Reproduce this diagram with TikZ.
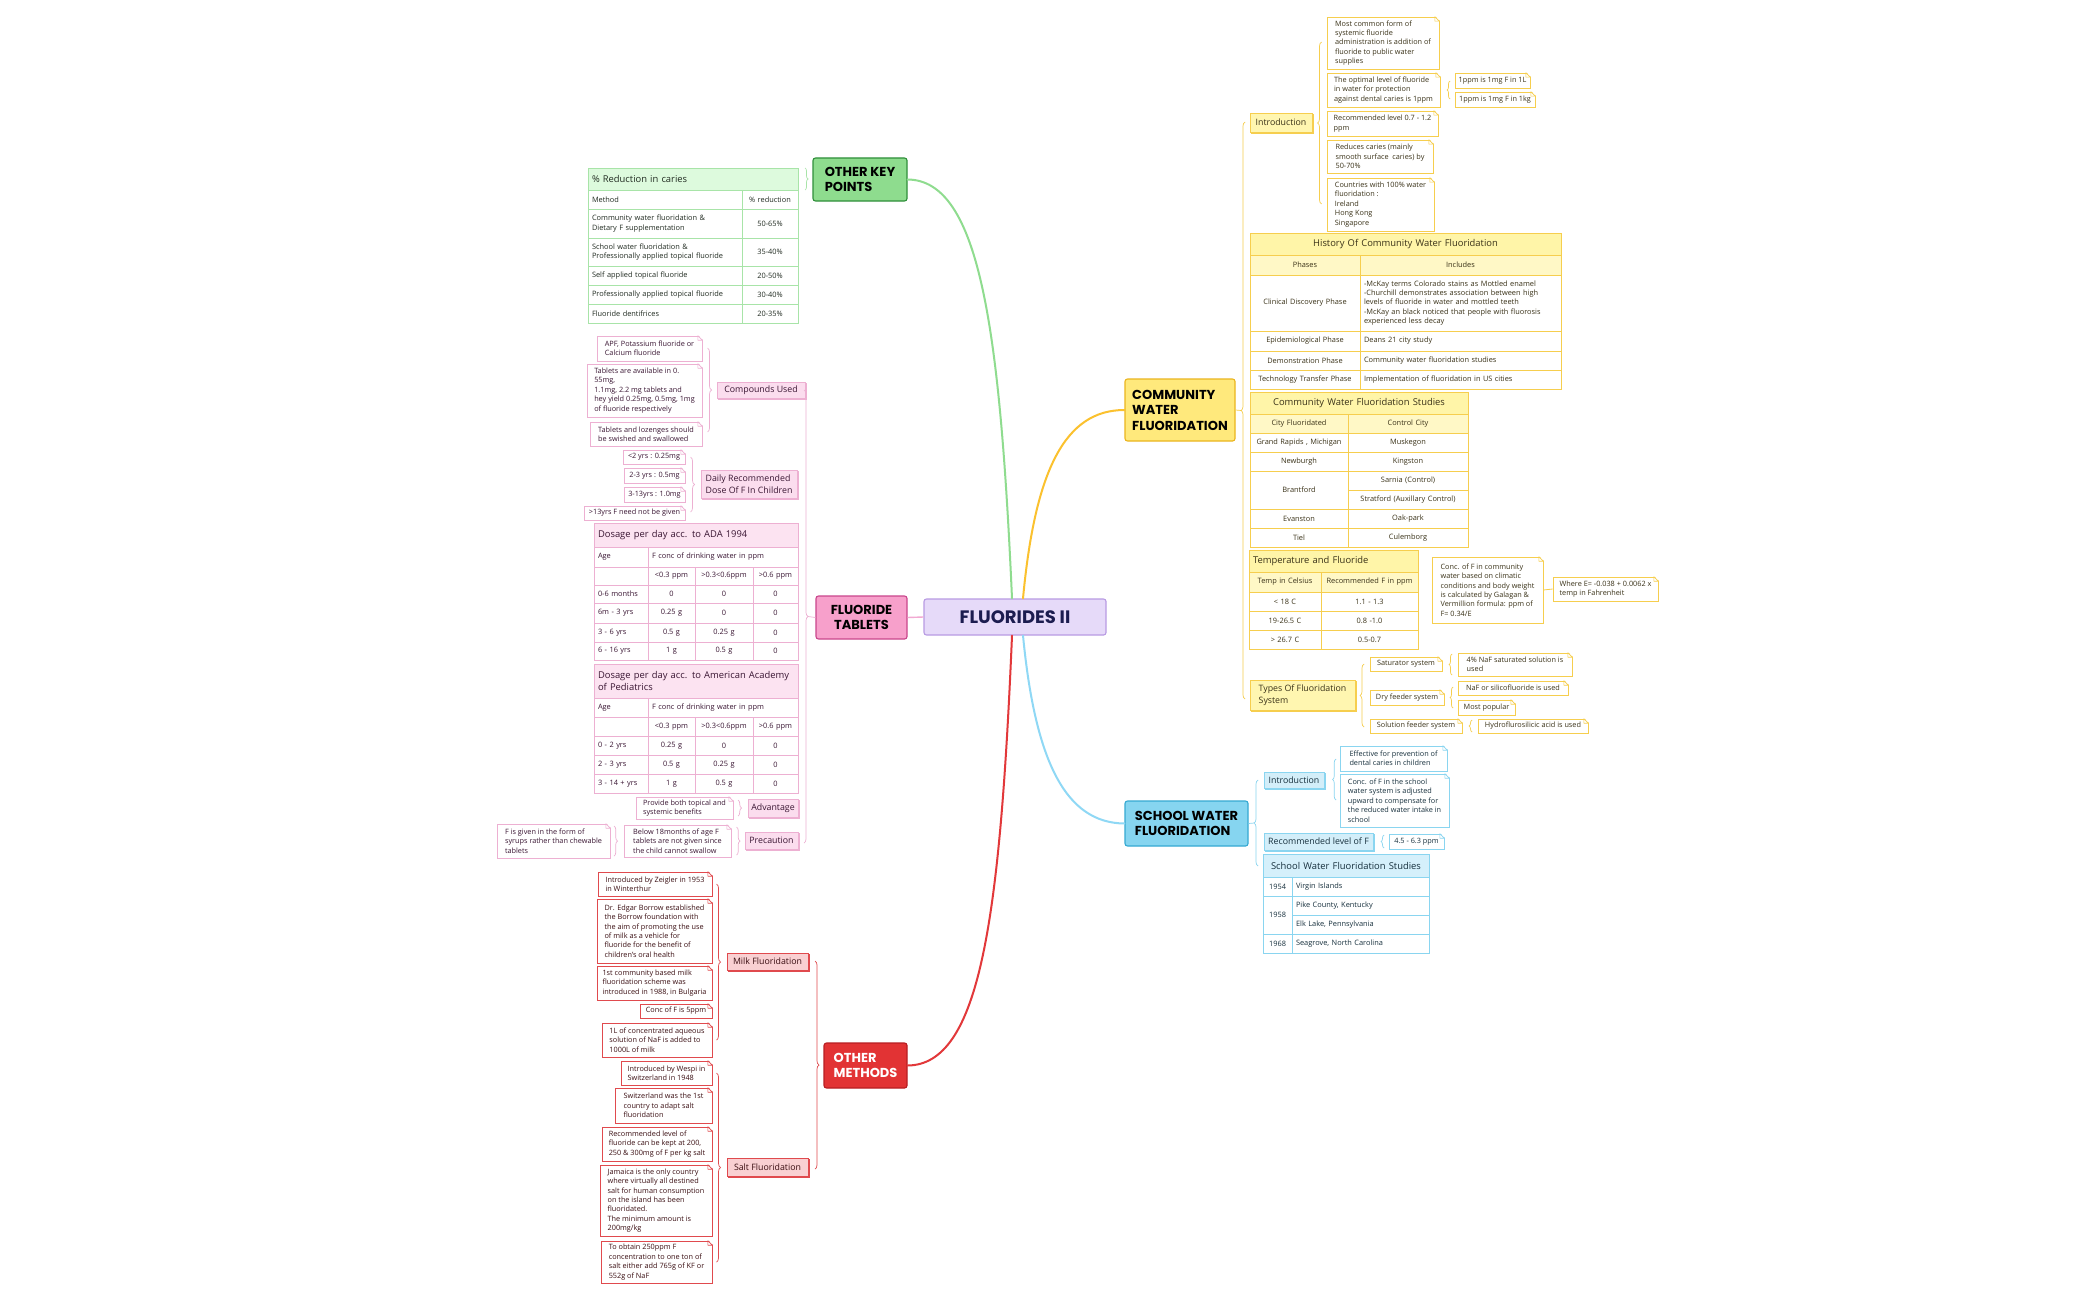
\documentclass[tikz,border=0pt]{standalone}
\usepackage{fontspec}
\setmainfont{Open Sans}
\newfontfamily\topicfont{Poppins}
\usetikzlibrary{decorations.pathreplacing,shadows}
\definecolor{gLine}{HTML}{8FDC8F}
\definecolor{gFill}{HTML}{8EDC8E}
\definecolor{gDark}{HTML}{2F8F3A}
\definecolor{gBord}{HTML}{A8E4A8}
\definecolor{gHead}{HTML}{DDFADD}
\definecolor{gText}{HTML}{222C22}
\definecolor{pLine}{HTML}{F2A9D2}
\definecolor{pFill}{HTML}{F7A0CB}
\definecolor{pDark}{HTML}{C9468C}
\definecolor{pBord}{HTML}{EDB0D2}
\definecolor{pSub}{HTML}{FBDDEE}
\definecolor{pHead}{HTML}{FCE3F1}
\definecolor{pText}{HTML}{3A1633}
\definecolor{rLine}{HTML}{E2383A}
\definecolor{rFill}{HTML}{E23334}
\definecolor{rDark}{HTML}{B81E22}
\definecolor{rBord}{HTML}{E04A4E}
\definecolor{rSub}{HTML}{F9D0D2}
\definecolor{rText}{HTML}{3A0E12}
\definecolor{yLine}{HTML}{FBC12E}
\definecolor{yFill}{HTML}{FFE97C}
\definecolor{yDark}{HTML}{EBB51E}
\definecolor{yBord}{HTML}{F6CE4E}
\definecolor{ySub}{HTML}{FFF6B0}
\definecolor{yHead}{HTML}{FFF5A8}
\definecolor{yHeadB}{HTML}{FFF8C6}
\definecolor{yText}{HTML}{3A3218}
\definecolor{bLine}{HTML}{8FD8F5}
\definecolor{bFill}{HTML}{86D5F0}
\definecolor{bDark}{HTML}{35A9D2}
\definecolor{bBord}{HTML}{8AD5F0}
\definecolor{bSub}{HTML}{D3EEF9}
\definecolor{bHead}{HTML}{D5F0FB}
\definecolor{bText}{HTML}{17303D}
\definecolor{cFill}{HTML}{E6DAF9}
\definecolor{cBord}{HTML}{B89BE3}
\definecolor{cText}{HTML}{1C1C50}
\tikzset{
  mmbase/.style={draw, inner xsep=3pt, inner ysep=1pt, line width=0.6pt, align=left},
  topic/.style={mmbase, rounded corners=2.5pt, line width=1.1pt, font={\topicfont\bfseries\fontsize{13}{15.5}\selectfont}},
  leaf/.style={mmbase, inner xsep=2.5pt, fill=white, draw=#1Bord, text=#1Text, font={\fontsize{7.3}{9.4}\selectfont}},
  sub/.style={mmbase, fill=#1Sub, draw=#1Bord, text=#1Text, font={\fontsize{8.8}{12}\selectfont}, copy shadow={shadow xshift=1.4pt, shadow yshift=-1.4pt}},
  tcell/.style={mmbase, inner xsep=4pt, fill=white, draw=#1Bord, text=#1Text, align=center, font={\fontsize{7.4}{9.3}\selectfont}},
  thead/.style={mmbase, inner xsep=4pt, fill=#1Head, draw=#1Bord, text=#1Text, font={\fontsize{9.4}{11.5}\selectfont}},
  cl/.style={align=left},
  brc/.style={decorate, decoration={brace, amplitude=#1}, line width=0.7pt},
  brc/.default=4pt,
  conn/.style={line width=2pt, line cap=round},
}
\newcommand\bx[7][]{%
  \pgfmathsetmacro\bxW{#5-#3}%
  \pgfmathsetmacro\bxH{#6-#4}%
  \pgfmathsetmacro\bxX{(#3+#5)/2}%
  \pgfmathsetmacro\bxY{(#4+#6)/2}%
  \pgfmathsetmacro\bxT{#5-#3-8}%
  \node[#1,minimum width=\bxW pt,minimum height=\bxH pt,text width=\bxT pt] (#2) at (\bxX,\bxY) {#7};}
\newcommand\nb[7][]{%
  \pgfmathsetmacro\bxW{#5-#3}%
  \pgfmathsetmacro\bxH{#6-#4}%
  \pgfmathsetmacro\bxX{(#3+#5)/2}%
  \pgfmathsetmacro\bxY{(#4+#6)/2}%
  \node[#1,minimum width=\bxW pt,minimum height=\bxH pt] (#2) at (\bxX,\bxY) {#7};}
\newcommand\dogear[2]{%
  \fill[white] ([xshift=-4.5pt,yshift=1pt]#1.north east) -- ([xshift=1pt,yshift=1pt]#1.north east) -- ([xshift=1pt,yshift=-4.5pt]#1.north east) -- cycle;
  \draw[#2Bord, line width=0.6pt, line join=round] ([xshift=-4.5pt]#1.north east) -- ([yshift=-4.5pt]#1.north east) -- ([xshift=-4.5pt,yshift=-4.5pt]#1.north east) -- cycle;}
\newcommand\prow[7]{%
  \bx[tcell=p,cl]{#1a}{594}{#2}{648}{#3}{#4}%
  \bx[tcell=p]{#1b}{648}{#2}{695}{#3}{#5}%
  \bx[tcell=p]{#1c}{695}{#2}{753}{#3}{#6}%
  \bx[tcell=p]{#1d}{753}{#2}{798}{#3}{#7}}
\begin{document}
\begin{tikzpicture}[x=1pt,y=-1pt]
\fill[white] (0,0) rectangle (2100,1300);
\useasboundingbox (0,0) rectangle (2100,1300);

% ---------- main topics
\nb[topic, fill=cFill, draw=cBord, text=cText, align=center, font={\topicfont\bfseries\fontsize{18}{20}\selectfont}]{c}{924}{599}{1106}{635}{FLUORIDES II}
\nb[topic, fill=gFill, draw=gDark, text=black]{okp}{813}{158}{907}{201}{OTHER KEY\\POINTS}
\nb[topic, fill=pFill, draw=pDark, text=black, align=center]{ft}{816}{596}{907}{639}{FLUORIDE\\TABLETS}
\nb[topic, fill=rFill, draw=rDark, text=white]{om}{824}{1043}{907}{1088}{OTHER\\METHODS}
\nb[topic, fill=yFill, draw=yDark, text=black]{cwf}{1125}{379}{1235}{441}{COMMUNITY\\WATER\\FLUORIDATION}
\nb[topic, fill=bFill, draw=bDark, text=black]{swf}{1125}{801}{1248}{846}{SCHOOL WATER\\FLUORIDATION}

\draw[conn, gLine] ([xshift=-3pt]c.north) .. controls (1000,330) and (980,180) .. (okp.east);
\draw[conn, yLine] ([xshift=8pt]c.north) .. controls (1035,470) and (1065,410) .. (cwf.west);
\draw[conn, bLine] ([xshift=8pt]c.south) .. controls (1035,760) and (1065,823) .. (swf.west);
\draw[conn, rLine] ([xshift=-3pt]c.south) .. controls (1000,920) and (980,1065) .. (om.east);
\draw[line width=1.4pt, pLine] (ft.east) -- (c.west);

% ---------- other key points table
\bx[thead=g]{g0}{588}{168}{798}{190}{\% Reduction in caries}
\bx[tcell=g,cl]{g1a}{588}{190}{742}{209}{Method}
\bx[tcell=g]{g1b}{742}{190}{798}{209}{\% reduction}
\bx[tcell=g,cl]{g2a}{588}{209}{742}{238}{Community water fluoridation \&\\Dietary F supplementation}
\bx[tcell=g]{g2b}{742}{209}{798}{238}{50-65\%}
\bx[tcell=g,cl]{g3a}{588}{238}{742}{266}{School water fluoridation \&\\Professionally applied topical fluoride}
\bx[tcell=g]{g3b}{742}{238}{798}{266}{35-40\%}
\bx[tcell=g,cl]{g4a}{588}{266}{742}{285}{Self applied topical fluoride}
\bx[tcell=g]{g4b}{742}{266}{798}{285}{20-50\%}
\bx[tcell=g,cl]{g5a}{588}{285}{742}{304}{Professionally applied topical fluoride}
\bx[tcell=g]{g5b}{742}{285}{798}{304}{30-40\%}
\bx[tcell=g,cl]{g6a}{588}{304}{742}{323}{Fluoride dentifrices}
\bx[tcell=g]{g6b}{742}{304}{798}{323}{20-35\%}
\draw[brc=3pt, gBord] (805,168) -- (805,190);

% ---------- fluoride tablets
\nb[leaf=p]{pl1}{597}{336}{702}{361}{APF, Potassium fluoride or\\Calcium fluoride}
\nb[leaf=p]{pl2}{587}{364}{702}{417}{Tablets are available in 0.\\55mg,\\1.1mg, 2.2 mg tablets and\\hey yield 0.25mg, 0.5mg, 1mg\\of fluoride respectively}
\nb[leaf=p]{pl3}{590}{422}{702}{446}{Tablets and lozenges should\\be swished and swallowed}
\nb[sub=p]{pcomp}{717}{382}{805}{398}{Compounds Used}
\nb[leaf=p]{pd1}{623}{450}{685}{464}{<2 yrs : 0.25mg}
\nb[leaf=p]{pd2}{624}{468}{685}{483}{2-3 yrs : 0.5mg}
\nb[leaf=p]{pd3}{624}{487}{685}{502}{3-13yrs : 1.0mg}
\nb[leaf=p]{pd4}{584}{506}{685}{520}{>13yrs F need not be given}
\nb[sub=p]{pdaily}{701}{470}{797}{498}{Daily Recommended\\Dose Of F In Children}

\bx[thead=p]{pa0}{594}{523}{798}{547}{Dosage per day acc. to ADA 1994}
\bx[tcell=p,cl]{pa1}{594}{547}{648}{567}{Age}
\bx[tcell=p,cl]{pa2}{648}{547}{798}{567}{F conc of drinking water in ppm}
\prow{pa3}{567}{585}{}{<0.3 ppm}{>0.3<0.6ppm}{>0.6 ppm}
\prow{pa4}{585}{603}{0-6 months}{0}{0}{0}
\prow{pa5}{603}{623}{6m - 3 yrs}{0.25 g}{0}{0}
\prow{pa6}{623}{642}{3 - 6 yrs}{0.5 g}{0.25 g}{0}
\prow{pa7}{642}{660}{6 - 16 yrs}{1 g}{0.5 g}{0}

\bx[thead=p]{pb0}{594}{664}{798}{698}{Dosage per day acc. to American Academy\\of Pediatrics}
\bx[tcell=p,cl]{pb1}{594}{698}{648}{717}{Age}
\bx[tcell=p,cl]{pb2}{648}{698}{798}{717}{F conc of drinking water in ppm}
\prow{pb3}{717}{736}{}{<0.3 ppm}{>0.3<0.6ppm}{>0.6 ppm}
\prow{pb4}{736}{755}{0 - 2 yrs}{0.25 g}{0}{0}
\prow{pb5}{755}{774}{2 - 3 yrs}{0.5 g}{0.25 g}{0}
\prow{pb6}{774}{793}{3 - 14 + yrs}{1 g}{0.5 g}{0}

\nb[leaf=p]{padvl}{636}{797}{733}{819}{Provide both topical and\\systemic benefits}
\nb[sub=p]{padv}{748}{799}{798}{817}{Advantage}
\nb[leaf=p]{pprel}{624}{825}{731}{857}{Below 18months of age F\\tablets are not given since\\the child cannot swallow}
\nb[sub=p]{ppre}{745}{832}{798}{849}{Precaution}
\nb[leaf=p]{psyr}{497}{824}{610}{858}{F is given in the form of\\syrups rather than chewable\\tablets}

\draw[brc=4pt, pBord] (804,390) -- (804,843);
\draw[line width=0.7pt, pBord] (808,616.5) -- (ft.west);
\draw[brc=4pt, pBord] (707.5,348) -- (707.5,432);
\draw[brc=4pt, pBord] (690.5,457) -- (690.5,512);
\draw[brc=3.5pt, pBord] (738,800) -- (738,816);
\draw[brc=3.5pt, pBord] (736.5,827) -- (736.5,855);
\draw[brc=3.5pt, pBord] (614,826) -- (614,856);

% ---------- other methods
\nb[leaf=r]{m1}{598}{872}{712}{896}{Introduced by Zeigler in 1953\\in Winterthur}
\nb[leaf=r]{m2}{597}{899}{712}{963}{Dr. Edgar Borrow established\\the Borrow foundation with\\the aim of promoting the use\\of milk as a vehicle for\\fluoride for the benefit of\\children's oral health}
\nb[leaf=r]{m3}{597}{966}{712}{1000}{1st community based milk\\fluoridation scheme was\\introduced in 1988, in Bulgaria}
\nb[leaf=r]{m4}{640}{1004}{712}{1018}{Conc of F is 5ppm}
\nb[leaf=r]{m5}{602}{1023}{712}{1057}{1L of concentrated aqueous\\solution of NaF is added to\\1000L of milk}
\nb[sub=r]{milk}{727}{953}{808}{970}{Milk Fluoridation}
\nb[leaf=r]{s1}{621}{1061}{712}{1085}{Introduced by Wespi in\\Switzerland in 1948}
\nb[leaf=r]{s2}{615}{1088}{712}{1123}{Switzerland was the 1st\\country to adapt salt\\fluoridation}
\nb[leaf=r]{s3}{602}{1127}{712}{1161}{Recommended level of\\fluoride can be kept at 200,\\250 \& 300mg of F per kg salt}
\nb[leaf=r]{s4}{600}{1165}{712}{1236}{Jamaica is the only country\\where virtually all destined\\salt for human consumption\\on the island has been\\fluoridated.\\The minimum amount is\\200mg/kg}
\nb[leaf=r]{s5}{601}{1241}{712}{1283}{To obtain 250ppm F\\concentration to one ton of\\salt either add 765g of KF or\\552g of NaF}
\nb[sub=r]{salt}{727}{1158}{808}{1176}{Salt Fluoridation}
\draw[brc=4pt, rBord] (716.5,884) -- (716.5,1040);
\draw[brc=4pt, rBord] (716.5,1073) -- (716.5,1262);
\draw[brc=4pt, rBord] (815,961) -- (815,1169);

% ---------- community water fluoridation
\nb[sub=y]{yintro}{1250}{113}{1312}{132}{Introduction}
\nb[leaf=y]{i1}{1327}{17}{1439}{69}{Most common form of\\systemic fluoride\\administration is addition of\\fluoride to public water\\supplies}
\nb[leaf=y]{i2}{1327}{73}{1440}{107}{The optimal level of fluoride\\in water for protection\\against dental caries is 1ppm}
\nb[leaf=y]{i3}{1327}{111}{1438}{136}{Recommended level 0.7 - 1.2\\ppm}
\nb[leaf=y]{i4}{1327}{140}{1433}{173}{Reduces caries (mainly\\smooth surface\ \ caries) by\\50-70\%}
\nb[leaf=y]{i5}{1327}{178}{1434}{231}{Countries with 100\% water\\fluoridation :\\Ireland\\Hong Kong\\Singapore}
\nb[leaf=y]{i2a}{1455}{73}{1530}{88}{1ppm is 1mg F in 1L}
\nb[leaf=y]{i2b}{1455}{92}{1535}{107}{1ppm is 1mg F in 1kg}

\bx[thead=y,align=center]{yh0}{1250}{233}{1561}{255}{History Of Community Water Fluoridation}
\bx[tcell=y,fill=yHeadB]{yh1a}{1250}{255}{1360}{275}{Phases}
\bx[tcell=y,fill=yHeadB]{yh1b}{1360}{255}{1561}{275}{Includes}
\bx[tcell=y]{yh2a}{1250}{275}{1360}{331}{Clinical Discovery Phase}
\bx[tcell=y,cl]{yh2b}{1360}{275}{1561}{331}{-McKay terms Colorado stains as Mottled enamel\\-Churchill demonstrates association between high\\levels of fluoride in water and mottled teeth\\-McKay an black noticed that people with fluorosis\\experienced less decay}
\bx[tcell=y]{yh3a}{1250}{331}{1360}{351}{Epidemiological Phase}
\bx[tcell=y,cl]{yh3b}{1360}{331}{1561}{351}{Deans 21 city study}
\bx[tcell=y]{yh4a}{1250}{351}{1360}{370}{Demonstration Phase}
\bx[tcell=y,cl]{yh4b}{1360}{351}{1561}{370}{Community water fluoridation studies}
\bx[tcell=y]{yh5a}{1250}{370}{1360}{389}{Technology Transfer Phase}
\bx[tcell=y,cl]{yh5b}{1360}{370}{1561}{389}{Implementation of fluoridation in US cities}

\bx[thead=y,align=center]{ys0}{1250}{392}{1468}{414}{Community Water Fluoridation Studies}
\bx[tcell=y,fill=yHeadB]{ys1a}{1250}{414}{1348}{433}{City Fluoridated}
\bx[tcell=y,fill=yHeadB]{ys1b}{1348}{414}{1468}{433}{Control City}
\bx[tcell=y]{ys2a}{1250}{433}{1348}{452}{Grand Rapids , Michigan}
\bx[tcell=y]{ys2b}{1348}{433}{1468}{452}{Muskegon}
\bx[tcell=y]{ys3a}{1250}{452}{1348}{471}{Newburgh}
\bx[tcell=y]{ys3b}{1348}{452}{1468}{471}{Kingston}
\bx[tcell=y]{ys4a}{1250}{471}{1348}{509}{Brantford}
\bx[tcell=y]{ys4b}{1348}{471}{1468}{490}{Sarnia (Control)}
\bx[tcell=y]{ys4c}{1348}{490}{1468}{509}{Stratford (Auxillary Control)}
\bx[tcell=y]{ys5a}{1250}{509}{1348}{528}{Evanston}
\bx[tcell=y]{ys5b}{1348}{509}{1468}{528}{Oak-park}
\bx[tcell=y]{ys6a}{1250}{528}{1348}{547}{Tiel}
\bx[tcell=y]{ys6b}{1348}{528}{1468}{547}{Culemborg}

\bx[thead=y]{yt0}{1249}{550}{1418}{572}{Temperature and Fluoride}
\bx[tcell=y,fill=yHeadB]{yt1a}{1249}{572}{1321}{592}{Temp in Celsius}
\bx[tcell=y,fill=yHeadB]{yt1b}{1321}{572}{1418}{592}{Recommended F in ppm}
\bx[tcell=y]{yt2a}{1249}{592}{1321}{611}{< 18 C}
\bx[tcell=y]{yt2b}{1321}{592}{1418}{611}{1.1 - 1.3}
\bx[tcell=y]{yt3a}{1249}{611}{1321}{630}{19-26.5 C}
\bx[tcell=y]{yt3b}{1321}{611}{1418}{630}{0.8 -1.0}
\bx[tcell=y]{yt4a}{1249}{630}{1321}{649}{> 26.7 C}
\bx[tcell=y]{yt4b}{1321}{630}{1418}{649}{0.5-0.7}

\nb[leaf=y]{conc}{1432}{557}{1543}{623}{Conc. of F in community\\water based on climatic\\conditions and body weight\\is calculated by Galagan \&\\Vermillion formula: ppm of\\F= 0.34/E}
\nb[leaf=y]{wheree}{1553}{577}{1658}{601}{Where E= -0.038 + 0.0062 x\\temp in Fahrenheit}
\draw[line width=0.8pt, yBord] (conc.east) -- (wheree.west);

\nb[sub=y]{types}{1250}{680}{1355}{710}{Types Of Fluoridation\\System}
\nb[leaf=y]{sat}{1370}{657}{1442}{671}{Saturator system}
\nb[leaf=y]{satl}{1458}{653}{1572}{676}{4\% NaF saturated solution is\\used}
\nb[leaf=y]{dry}{1370}{690}{1444}{705}{Dry feeder system}
\nb[leaf=y]{dryl1}{1458}{681}{1568}{695}{NaF or silicofluoride is used}
\nb[leaf=y]{dryl2}{1458}{700}{1515}{715}{Most popular}
\nb[leaf=y]{sol}{1370}{719}{1462}{733}{Solution feeder system}
\nb[leaf=y]{soll}{1478}{719}{1588}{733}{Hydroflurosilicic acid is used}

\draw[brc=4pt, yBord] (1245,699) -- (1245,122);
\draw[line width=0.7pt, yBord] (1241,410.5) -- (cwf.east);
\draw[brc=4pt, yBord] (1321.5,204) -- (1321.5,42);
\draw[brc=3pt, yBord] (1450,99) -- (1450,81);
\draw[brc=4pt, yBord] (1364,727) -- (1364,664);
\draw[brc=3pt, yBord] (1452,675) -- (1452,654);
\draw[brc=3pt, yBord] (1453,708) -- (1453,687);
\draw[brc=3pt, yBord] (1472,732) -- (1472,720);

% ---------- school water fluoridation
\nb[sub=b]{bintro}{1264}{772}{1324}{788}{Introduction}
\nb[leaf=b]{bi1}{1340}{746}{1447}{771}{Effective for prevention of\\dental caries in children}
\nb[leaf=b]{bi2}{1340}{774}{1449}{827}{Conc. of F in the school\\water system is adjusted\\upward to compensate for\\the reduced water intake in\\school}
\nb[sub=b]{brec}{1264}{833}{1373}{850}{Recommended level of F}
\nb[leaf=b]{brecl}{1389}{834}{1444}{849}{4.5 - 6.3 ppm}
\bx[thead=b,align=center]{bt0}{1263}{854}{1429}{877}{School Water Fluoridation Studies}
\bx[tcell=b]{bt1a}{1263}{877}{1292}{896}{1954}
\bx[tcell=b,cl]{bt1b}{1292}{877}{1429}{896}{Virgin Islands}
\bx[tcell=b]{bt2a}{1263}{896}{1292}{934}{1958}
\bx[tcell=b,cl]{bt2b}{1292}{896}{1429}{915}{Pike County, Kentucky}
\bx[tcell=b,cl]{bt2c}{1292}{915}{1429}{934}{Elk Lake, Pennsylvania}
\bx[tcell=b]{bt3a}{1263}{934}{1292}{953}{1968}
\bx[tcell=b,cl]{bt3b}{1292}{934}{1429}{953}{Seagrove, North Carolina}
\draw[brc=4pt, bBord] (1258,866) -- (1258,780);
\draw[line width=0.7pt, bBord] (1254,823) -- (swf.east);
\draw[brc=3.5pt, bBord] (1336,800) -- (1336,759);
\draw[brc=3pt, bBord] (1384,848) -- (1384,835);

% ---------- folded corners of notes
\foreach \n in {pl1,pl2,pl3,pd1,pd2,pd3,pd4,padvl,pprel,psyr} {\dogear{\n}{p}}
\foreach \n in {m1,m2,m3,m4,m5,s1,s2,s3,s4,s5} {\dogear{\n}{r}}
\foreach \n in {i1,i2,i3,i4,i5,i2a,i2b,conc,wheree,sat,satl,dry,dryl1,dryl2,sol,soll} {\dogear{\n}{y}}
\foreach \n in {bi1,bi2,brecl} {\dogear{\n}{b}}
\end{tikzpicture}
\end{document}
